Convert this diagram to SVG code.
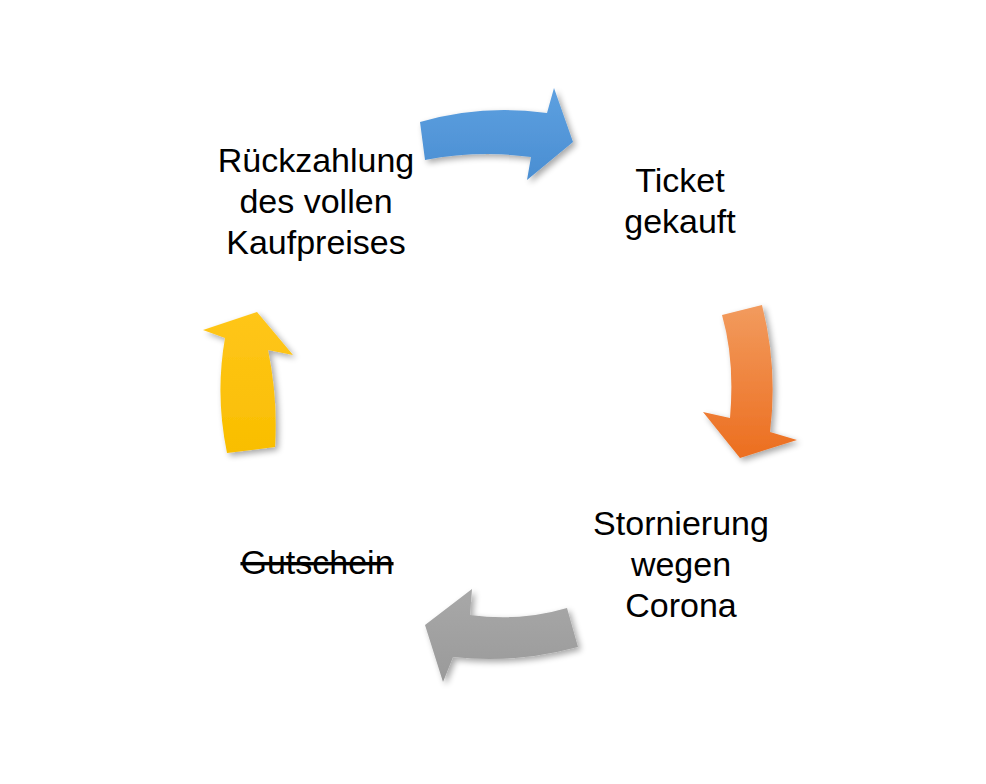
<svg xmlns="http://www.w3.org/2000/svg" width="986" height="784" viewBox="0 0 986 784">
<style>
.t{font-family:"Liberation Sans",Arial,sans-serif;font-size:34px;fill:#000;text-anchor:middle}
</style>
<defs>
<filter id="sh" x="-20%" y="-20%" width="150%" height="150%">
<feGaussianBlur in="SourceAlpha" stdDeviation="3"/>
<feOffset dx="3" dy="3" result="b"/>
<feComponentTransfer><feFuncA type="linear" slope="0.35"/></feComponentTransfer>
<feMerge><feMergeNode/><feMergeNode in="SourceGraphic"/></feMerge>
</filter>
<linearGradient id="gb" x1="0" y1="0" x2="0" y2="1"><stop offset="0" stop-color="#5DA0E0"/><stop offset="1" stop-color="#4A8ED2"/></linearGradient>
<linearGradient id="go" x1="0" y1="0" x2="0" y2="1"><stop offset="0" stop-color="#F29B5E"/><stop offset="1" stop-color="#EC6E1F"/></linearGradient>
<linearGradient id="gg" x1="0" y1="0" x2="0" y2="1"><stop offset="0" stop-color="#A8A8A8"/><stop offset="1" stop-color="#9A9A9A"/></linearGradient>
<linearGradient id="gy" x1="0" y1="0" x2="0" y2="1"><stop offset="0" stop-color="#FFC61A"/><stop offset="1" stop-color="#F9BE00"/></linearGradient>
</defs>
<g id="connectors" filter="url(#sh)">
<path id="arrow-blue" fill="url(#gb)" d="M420,122 Q482,104 547,113 L554,88 L573,142 L527,180 L531,157 Q478,150 425,160 Z"/>
<path id="arrow-orange" fill="url(#go)" d="M722,315 L762,305 Q778,368 770,432 L797,440 L740,458 L703,412 L730,418 Q735,360 722,315 Z"/>
<path id="arrow-gray" fill="url(#gg)" d="M567,608 L578,647 Q515,664 453,657 L443,682 L425,625 L472,589 L470,615 Q520,622 567,608 Z"/>
<path id="arrow-yellow" fill="url(#gy)" d="M227,453 Q215,395 225,338 L203,330 L257,312 L293,355 L268,350 Q278,398 275,447 Z"/>
</g>
<g id="node-rueckzahlung">
<text class="t" x="316" y="172">Rückzahlung</text>
<text class="t" x="316" y="213">des vollen</text>
<text class="t" x="316" y="254">Kaufpreises</text>
</g>
<g id="node-ticket">
<text class="t" x="680" y="192">Ticket</text>
<text class="t" x="680" y="233">gekauft</text>
</g>
<g id="node-stornierung">
<text class="t" x="681" y="535">Stornierung</text>
<text class="t" x="681" y="576">wegen</text>
<text class="t" x="681" y="617">Corona</text>
</g>
<g id="node-gutschein">
<text class="t" x="317" y="574" text-decoration="line-through">Gutschein</text>
</g>
</svg>
